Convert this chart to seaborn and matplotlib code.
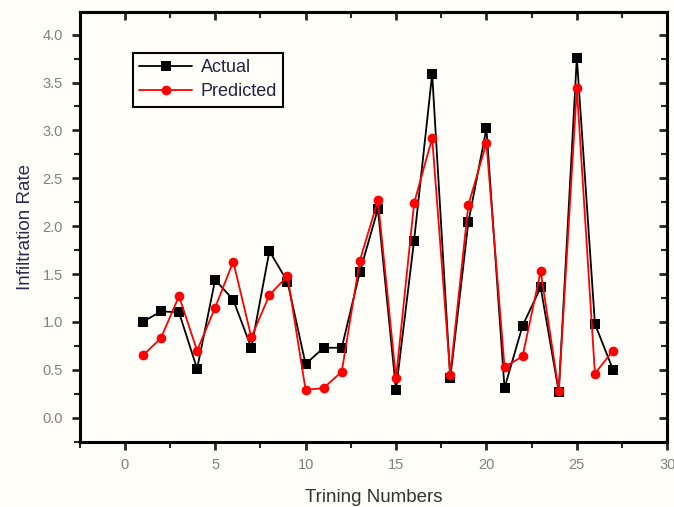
import pandas as pd
import numpy as np
import matplotlib
matplotlib.use("Agg")
import matplotlib.pyplot as plt
from matplotlib.ticker import MultipleLocator, FormatStrFormatter
import seaborn as sns

samples = list(range(1, 28))
actual = [1.00, 1.11, 1.10, 0.51, 1.44, 1.23, 0.73, 1.74, 1.42, 0.56,
          0.73, 0.73, 1.52, 2.18, 0.29, 1.85, 3.59, 0.41, 2.04, 3.02,
          0.31, 0.96, 1.36, 0.27, 3.76, 0.98, 0.50]
predicted = [0.65, 0.83, 1.27, 0.70, 1.15, 1.63, 0.84, 1.28, 1.48, 0.29,
             0.31, 0.48, 1.64, 2.27, 0.41, 2.24, 2.92, 0.45, 2.22, 2.87,
             0.53, 0.64, 1.53, 0.28, 3.44, 0.46, 0.70]

df = pd.DataFrame({
    "n": samples * 2,
    "rate": actual + predicted,
    "series": ["Actual"] * len(samples) + ["Predicted"] * len(samples),
})

sns.set_style("ticks")
plt.rcParams["font.family"] = ["Liberation Sans", "DejaVu Sans"]

bg = "#fffef8"
fig = plt.figure(figsize=(6.74, 5.07), dpi=100, facecolor=bg)
ax = fig.add_axes([0.118, 0.129, 0.872, 0.848], facecolor=bg)

sns.lineplot(data=df, x="n", y="rate", hue="series", style="series",
             palette={"Actual": "black", "Predicted": "red"},
             markers={"Actual": "s", "Predicted": "o"},
             dashes=False, markersize=7, markeredgewidth=0,
             linewidth=1.3, ax=ax)

ax.set_xlim(-2.5, 30)
ax.set_ylim(-0.25, 4.24)

# outward ticks on bottom/left, inward ticks on top/right
top = ax.secondary_xaxis("top")
right = ax.secondary_yaxis("right")
for a in (ax.xaxis, top.xaxis):
    a.set_major_locator(MultipleLocator(5))
    a.set_minor_locator(MultipleLocator(2.5))
for a in (ax.yaxis, right.yaxis):
    a.set_major_locator(MultipleLocator(0.5))
    a.set_minor_locator(MultipleLocator(0.25))
ax.yaxis.set_major_formatter(FormatStrFormatter("%.1f"))

for s in ax.spines.values():
    s.set_visible(True)
    s.set_linewidth(2.2)
    s.set_color("black")
for sec in (top, right):
    for s in sec.spines.values():
        s.set_linewidth(2.2)
    sec.tick_params(which="major", direction="in", length=6, width=2,
                    labelleft=False, labelright=False, labeltop=False,
                    labelbottom=False)
    sec.tick_params(which="minor", direction="in", length=4, width=1.5)

ax.tick_params(which="major", direction="out", length=6, width=2,
               labelsize=10.5, labelcolor="#808080", pad=6)
ax.tick_params(which="minor", direction="out", length=4, width=1.5)

ax.set_xlabel("Trining Numbers", fontsize=13.5, color="#333333", labelpad=12)
ax.set_ylabel("Infiltration Rate", fontsize=13.5, color="#2b2b55", labelpad=6)

leg = ax.legend(loc="upper left", bbox_to_anchor=(0.091, 0.904),
                borderaxespad=0, fontsize=13,
                frameon=True, fancybox=False, edgecolor="black",
                handlelength=2.9, borderpad=0.35, labelspacing=0.4,
                handletextpad=0.5)
leg.get_frame().set_linewidth(1.5)
leg.get_frame().set_facecolor(bg)
leg.get_frame().set_alpha(1)
for t in leg.get_texts():
    t.set_color("#222244")

fig.savefig("out.png", dpi=100, facecolor=bg)
